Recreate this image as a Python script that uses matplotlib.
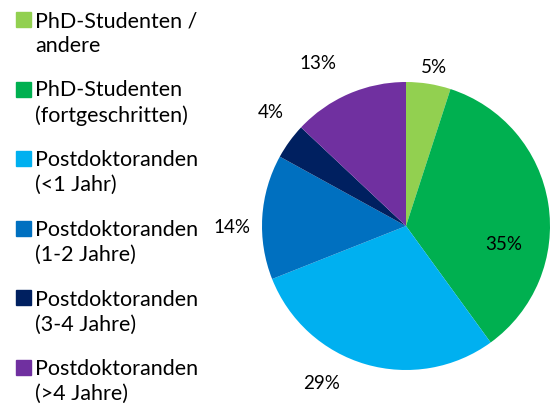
import math

import matplotlib.pyplot as plt
from matplotlib.patches import Rectangle

categories = [
    "PhD-Studenten /\nandere",
    "PhD-Studenten\n(fortgeschritten)",
    "Postdoktoranden\n(<1 Jahr)",
    "Postdoktoranden\n(1-2 Jahre)",
    "Postdoktoranden\n(3-4 Jahre)",
    "Postdoktoranden\n(>4 Jahre)",
]
shares = [5, 35, 29, 14, 4, 13]
colors = ["#92D050", "#00B050", "#00B0F0", "#0070C0", "#002060", "#7030A0"]

# label placement: distance from centre (in radii) and angle tweak (deg)
label_dist = [1.12, 0.69, 1.24, 1.21, 1.23, 1.28]
label_turn = [-1, -20, -12, 4, -4, 5]

plt.rcParams["font.family"] = ["Lato", "DejaVu Sans"]

W, H = 550, 405
fig = plt.figure(figsize=(W / 100, H / 100), dpi=100)

cx, cy, r = 406, 226, 144
ax = fig.add_axes([(cx - r) / W, (H - cy - r) / H, 2 * r / W, 2 * r / H])
wedges, _ = ax.pie(shares, colors=colors, startangle=90, counterclock=False,
                   radius=1, wedgeprops=dict(linewidth=0))
ax.set_xlim(-1, 1)
ax.set_ylim(-1, 1)
ax.set_aspect("equal")
ax.axis("off")

for w, val, d, t in zip(wedges, shares, label_dist, label_turn):
    ang = math.radians((w.theta1 + w.theta2) / 2 + t)
    ax.text(d * math.cos(ang), d * math.sin(ang), f"{val}%", ha="center",
            va="center", fontsize=13.5, color="#000000", clip_on=False)

# legend, drawn by hand so the marker sits on the first text line
line_gap = 25
for i, (lab, col) in enumerate(zip(categories, colors)):
    base = 27 + i * 69.6
    fig.patches.append(Rectangle((16 / W, 1 - base / H), 15 / W, 15 / H,
                                 transform=fig.transFigure, color=col))
    # baseline alignment uses the last line, so anchor on the second one
    fig.text(35 / W, 1 - (base + line_gap) / H, lab, ha="left", va="baseline",
             fontsize=15.5, linespacing=1.30, color="#000000")

fig.savefig("out.png", dpi=100)
